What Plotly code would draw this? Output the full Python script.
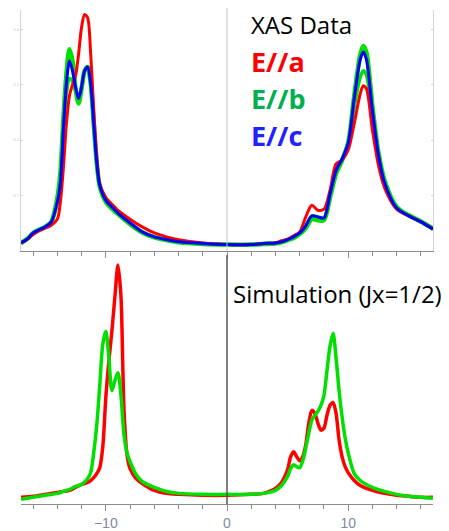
import plotly.graph_objects as go

# ---------------- data ----------------
X_TOP = [-17, -16.5, -16, -15.5, -15, -14.5, -14, -13.75, -13.5, -13.25, -13, -12.75, -12.5, -12.25,
         -12, -11.75, -11.5, -11.25, -11, -10.75, -10.5, -10, -9.5, -9, -8, -7, -6, -5, -4, -2, 0,
         2, 3, 4, 4.5, 5, 5.5, 6, 6.5, 7, 7.5, 8, 8.5, 9, 9.5, 10, 10.5, 11, 11.25, 11.5, 12, 12.5,
         13, 14, 15, 16, 17]

XAS_A = [0.014, 0.020, 0.029, 0.036, 0.041, 0.046, 0.057, 0.088, 0.150, 0.230,
         0.280, 0.300, 0.316, 0.355, 0.404, 0.427, 0.421, 0.355, 0.257, 0.171,
         0.121, 0.096, 0.084, 0.073, 0.057, 0.043, 0.032, 0.025, 0.020, 0.014,
         0.011, 0.011, 0.013, 0.014, 0.018, 0.021, 0.027, 0.034, 0.061, 0.082,
         0.073, 0.075, 0.109, 0.157, 0.164, 0.182, 0.230, 0.284, 0.298, 0.293,
         0.218, 0.154, 0.114, 0.075, 0.063, 0.052, 0.039]

XAS_B1 = [0.014, 0.021, 0.032, 0.038, 0.043, 0.052, 0.096, 0.141, 0.239, 0.320,
          0.364, 0.343, 0.293, 0.266, 0.293, 0.325, 0.332, 0.302, 0.230, 0.159,
          0.116, 0.088, 0.076, 0.066, 0.048, 0.033, 0.024, 0.019, 0.015, 0.012,
          0.011, 0.011, 0.012, 0.013, 0.015, 0.019, 0.023, 0.030, 0.041, 0.057,
          0.055, 0.055, 0.096, 0.139, 0.163, 0.195, 0.280, 0.355, 0.370, 0.359,
          0.261, 0.177, 0.127, 0.079, 0.064, 0.053, 0.040]

XAS_B2 = [0.014, 0.021, 0.032, 0.038, 0.043, 0.052, 0.088, 0.123, 0.213, 0.284,
          0.311, 0.307, 0.289, 0.275, 0.296, 0.325, 0.332, 0.302, 0.230, 0.159,
          0.118, 0.091, 0.079, 0.068, 0.050, 0.034, 0.025, 0.020, 0.016, 0.013,
          0.011, 0.011, 0.013, 0.014, 0.016, 0.020, 0.025, 0.032, 0.045, 0.063,
          0.061, 0.059, 0.102, 0.145, 0.166, 0.195, 0.261, 0.314, 0.325, 0.318,
          0.246, 0.173, 0.123, 0.077, 0.063, 0.052, 0.039]

XAS_C = [0.014, 0.021, 0.032, 0.038, 0.043, 0.052, 0.088, 0.123, 0.221, 0.302,
         0.343, 0.325, 0.296, 0.275, 0.296, 0.325, 0.332, 0.302, 0.230, 0.159,
         0.118, 0.091, 0.079, 0.068, 0.050, 0.034, 0.025, 0.020, 0.016, 0.013,
         0.011, 0.011, 0.013, 0.014, 0.016, 0.020, 0.025, 0.032, 0.045, 0.063,
         0.061, 0.059, 0.102, 0.145, 0.166, 0.195, 0.275, 0.346, 0.359, 0.346,
         0.254, 0.173, 0.123, 0.077, 0.063, 0.052, 0.039]

X_BOT = [-17, -16, -15, -14, -13.5, -13, -12.5, -12, -11.5, -11.25, -11, -10.75, -10.5, -10.25,
         -10, -9.75, -9.5, -9.25, -9, -8.75, -8.6, -8.5, -8.25, -8, -7.5, -7, -6, -5, -4, -2, 0,
         2, 3, 3.5, 4, 4.5, 5, 5.25, 5.5, 5.75, 6, 6.25, 6.5, 6.75, 7, 7.25, 7.5, 7.75, 8, 8.25,
         8.5, 8.75, 9, 9.25, 9.5, 9.75, 10, 10.5, 11, 12, 13, 14, 15, 16, 17]

SIM_A = [0.028, 0.032, 0.040, 0.048, 0.052, 0.056, 0.068, 0.080, 0.088, 0.096,
         0.108, 0.124, 0.148, 0.232, 0.432, 0.580, 0.700, 0.840, 0.968, 0.840,
         0.560, 0.380, 0.200, 0.144, 0.104, 0.084, 0.056, 0.044, 0.040, 0.036,
         0.036, 0.040, 0.044, 0.052, 0.064, 0.088, 0.140, 0.192, 0.212, 0.192,
         0.176, 0.192, 0.240, 0.328, 0.380, 0.368, 0.328, 0.300, 0.308, 0.360,
         0.400, 0.412, 0.368, 0.260, 0.192, 0.152, 0.128, 0.096, 0.076, 0.056,
         0.044, 0.036, 0.032, 0.028, 0.028]

SIM_B = [0.020, 0.028, 0.036, 0.044, 0.052, 0.060, 0.072, 0.080, 0.104, 0.128,
         0.208, 0.320, 0.480, 0.648, 0.700, 0.592, 0.460, 0.500, 0.532, 0.440,
         0.340, 0.280, 0.208, 0.172, 0.120, 0.092, 0.068, 0.052, 0.044, 0.040,
         0.040, 0.040, 0.044, 0.048, 0.056, 0.076, 0.112, 0.144, 0.160, 0.152,
         0.148, 0.176, 0.228, 0.288, 0.340, 0.360, 0.376, 0.400, 0.440, 0.540,
         0.640, 0.692, 0.592, 0.460, 0.352, 0.268, 0.208, 0.124, 0.096, 0.068,
         0.052, 0.040, 0.032, 0.028, 0.024]

TICK_VALS = [-10, 0, 10]
TICK_TEXT = ["\u221210", "0", "10"]
Y_TICKS_TOP = [0.1, 0.2, 0.3, 0.4]

RED = "#FF0000"
GREEN = "#00E000"
BLUE = "#0000FF"

# the page body adds an 8px margin, so the figure is 8px smaller each way
OFF = 8
W, H = 449 - OFF, 531 - OFF

def px(x):
    return (x - OFF) / W

def py(y):
    return 1 - (y - OFF) / H

fig = go.Figure()

# top panel
fig.add_trace(go.Scatter(x=X_TOP, y=XAS_B2, mode="lines", line=dict(color=GREEN, width=3.5, shape="spline", smoothing=0.8), xaxis="x", yaxis="y", hoverinfo="skip"))
fig.add_trace(go.Scatter(x=X_TOP, y=XAS_B1, mode="lines", line=dict(color=GREEN, width=4.5, shape="spline", smoothing=0.8), xaxis="x", yaxis="y", hoverinfo="skip"))
fig.add_trace(go.Scatter(x=X_TOP, y=XAS_A, mode="lines", line=dict(color=RED, width=3, shape="spline", smoothing=0.8), xaxis="x", yaxis="y", hoverinfo="skip"))
fig.add_trace(go.Scatter(x=X_TOP, y=XAS_C, mode="lines", line=dict(color=BLUE, width=3, shape="spline", smoothing=0.8), xaxis="x", yaxis="y", hoverinfo="skip"))

# bottom panel
fig.add_trace(go.Scatter(x=X_BOT, y=SIM_A, mode="lines", line=dict(color=RED, width=3.5, shape="spline", smoothing=0.8), xaxis="x2", yaxis="y2", hoverinfo="skip"))
fig.add_trace(go.Scatter(x=X_BOT, y=SIM_B, mode="lines", line=dict(color=GREEN, width=3.5, shape="spline", smoothing=0.8), xaxis="x2", yaxis="y2", hoverinfo="skip"))

x_dom = [px(21), px(433)]
top_dom = [py(253.5), py(10)]
bot_dom = [py(510), py(258)]

common_x = dict(range=[-17, 17], domain=x_dom, showgrid=False, zeroline=False,
                showline=True, linecolor="#8c8c8c", linewidth=1,
                tickmode="array", tickvals=TICK_VALS, ticktext=TICK_TEXT,
                ticks="outside", ticklen=6, tickcolor="#8c8c8c",
                minor=dict(tickmode="linear", tick0=0, dtick=2, ticks="outside", ticklen=4, tickcolor="#8c8c8c"))

fig.update_layout(
    width=W, height=H,
    margin=dict(l=0, r=0, t=0, b=0),
    paper_bgcolor="white", plot_bgcolor="white",
    showlegend=False,
    xaxis=dict(**common_x, anchor="y", showticklabels=False),
    yaxis=dict(range=[0, 0.435], domain=top_dom, anchor="x", showgrid=False, zeroline=False,
               showline=True, linecolor="#d4d4d4", linewidth=1, mirror="ticks",
               tickvals=Y_TICKS_TOP, ticks="inside", ticklen=2, tickcolor="#d4d4d4",
               tickfont=dict(size=4, color="#c0c0c0")),
    xaxis2=dict(**common_x, anchor="y2", showticklabels=True,
                tickfont=dict(family="Liberation Sans, Arial", size=14, color="#7f8a9c")),
    yaxis2=dict(range=[0, 1.008], domain=bot_dom, anchor="x2", visible=False),
)

# zero lines
fig.add_shape(type="line", xref="x", yref="paper", x0=0, x1=0, y0=py(253.5), y1=1.0,
              line=dict(color="#c8c8c8", width=1))
fig.add_shape(type="line", xref="x2", yref="paper", x0=0, x1=0, y0=py(510), y1=py(258),
              line=dict(color="#555555", width=1.5))

FONT = "Open Sans, Lato, sans-serif"
ann = [
    ("XAS Data", 250, 25, "#000000", False, 24),
    ("E//a", 250, 62, "#FF0000", True, 27),
    ("E//b", 250, 100, "#00B050", True, 27),
    ("E//c", 250, 137, "#2222FF", True, 27),
    ("Simulation (Jx=1/2)", 232, 297, "#000000", False, 24),
]
for text, x, y, col, bold, size in ann:
    fig.add_annotation(text=f"<b>{text}</b>" if bold else text, xref="paper", yref="paper",
                       x=px(x), y=py(y), xanchor="left", yanchor="middle", showarrow=False,
                       borderpad=0,
                       font=dict(family=FONT, size=size, color=col))

fig.write_html("out.html")
